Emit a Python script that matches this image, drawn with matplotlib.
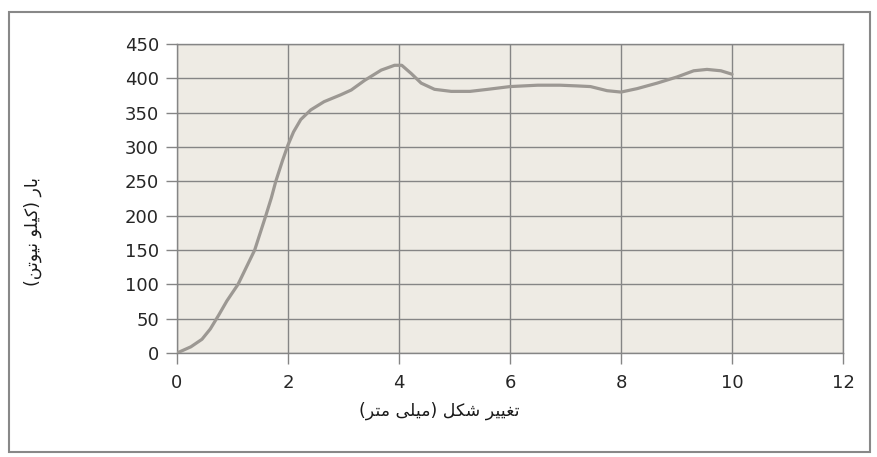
import matplotlib
matplotlib.use("Agg")
import matplotlib.pyplot as plt
from matplotlib.patches import Rectangle

# ---- data ----
deformation_mm = [0, 0.25, 0.45, 0.6, 0.75, 0.9, 1.1, 1.25, 1.4, 1.5, 1.6, 1.7, 1.78,
                  1.9, 2.0, 2.1, 2.23, 2.41, 2.65, 2.95, 3.14, 3.38, 3.68, 3.92,
                  4.05, 4.22, 4.4, 4.64, 4.94, 5.28, 5.6, 6.0, 6.5, 6.9, 7.2,
                  7.45, 7.75, 8.0, 8.29, 8.65, 9.01, 9.31, 9.55, 9.8, 10.0]
load_kN = [0, 9, 20, 35, 55, 76, 100, 125, 150, 175, 200, 226, 250,
           280, 303, 322, 340, 354, 366, 376, 383, 397, 412, 419,
           419, 407, 393, 384, 381, 381, 384, 388, 390, 390, 389,
           388, 382, 380, 385, 393, 402, 411, 413, 411, 406]
x_ticks = [0, 2, 4, 6, 8, 10, 12]
y_ticks = [0, 50, 100, 150, 200, 250, 300, 350, 400, 450]
x_label = "تغییر شکل (میلی متر)"
y_label = "بار (کیلو نیوتن)"

# ---- minimal Arabic/Persian shaping for display ----
FORMS = {  # isolated, final, initial, medial
    'ا': ('\uFE8D', '\uFE8E', None, None),
    'ب': ('\uFE8F', '\uFE90', '\uFE91', '\uFE92'),
    'ت': ('\uFE95', '\uFE96', '\uFE97', '\uFE98'),
    'ر': ('\uFEAD', '\uFEAE', None, None),
    'ش': ('\uFEB5', '\uFEB6', '\uFEB7', '\uFEB8'),
    'غ': ('\uFECD', '\uFECE', '\uFECF', '\uFED0'),
    'ل': ('\uFEDD', '\uFEDE', '\uFEDF', '\uFEE0'),
    'م': ('\uFEE1', '\uFEE2', '\uFEE3', '\uFEE4'),
    'ن': ('\uFEE5', '\uFEE6', '\uFEE7', '\uFEE8'),
    'و': ('\uFEED', '\uFEEE', None, None),
    'ک': ('\uFB8E', '\uFB8F', '\uFB90', '\uFB91'),
    'ی': ('\uFBFC', '\uFBFD', '\uFBFE', '\uFBFF'),
}


def shape(text):
    out = []
    n = len(text)
    for i, ch in enumerate(text):
        if ch not in FORMS:
            out.append(ch)
            continue
        prev = text[i - 1] if i > 0 else None
        nxt = text[i + 1] if i < n - 1 else None
        joins_prev = prev in FORMS and FORMS[prev][2] is not None
        joins_next = nxt in FORMS and FORMS[ch][2] is not None
        iso, fin, ini, med = FORMS[ch]
        if joins_prev and joins_next:
            out.append(med)
        elif joins_prev:
            out.append(fin)
        elif joins_next:
            out.append(ini)
        else:
            out.append(iso)
    s = ''.join(out)[::-1]
    return s.translate(str.maketrans('()', ')('))


plt.rcParams['font.family'] = ['DejaVu Sans']

W, H = 878, 457
fig = plt.figure(figsize=(W / 100, H / 100), dpi=100)
fig.patch.set_facecolor('white')
L, R, T, B = 177, 843, 44, 353
ax = fig.add_axes([L / W, 1 - B / H, (R - L) / W, (B - T) / H])
ax.set_facecolor('#EEEBE4')

ax.plot(deformation_mm, load_kN, color='#9C9893', linewidth=2.3,
        solid_capstyle='round', solid_joinstyle='round', zorder=3)

ax.set_xlim(0, 12)
ax.set_ylim(0, 450)
ax.set_xticks(x_ticks)
ax.set_yticks(y_ticks)
ax.grid(True, color='#858585', linewidth=1.0)
ax.set_axisbelow(True)
for sp in ax.spines.values():
    sp.set_color('#858585')
    sp.set_linewidth(1.0)
ax.tick_params(axis='both', direction='out', length=8, width=1.0,
               color='#858585', labelsize=13, labelcolor='#262626')
ax.tick_params(axis='y', pad=5)
ax.tick_params(axis='x', pad=7)

ax.set_xlabel(shape(x_label), fontsize=12.5, color='#1a1a1a', va='center')
ax.set_ylabel(shape(y_label), fontsize=12.5, color='#1a1a1a', va='center')
ax.xaxis.set_label_coords((439 - L) / (R - L), (B - 411) / (B - T))
ax.yaxis.set_label_coords((33 - L) / (R - L), (B - 232) / (B - T))

# outer chart border
fig.patches.append(Rectangle((9 / W, 1 - 452 / H), (870 - 9) / W, (452 - 12) / H,
                             transform=fig.transFigure, fill=False,
                             edgecolor='#888888', linewidth=1.5))

fig.savefig('out.png', dpi=100)
